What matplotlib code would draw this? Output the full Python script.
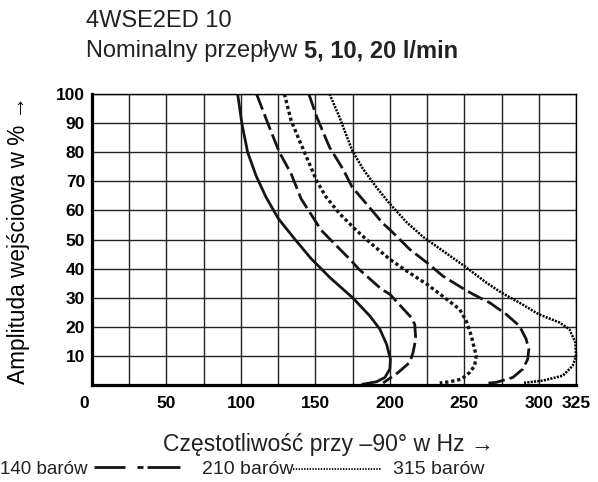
import matplotlib
matplotlib.use("Agg")
import matplotlib.pyplot as plt
from matplotlib.lines import Line2D
from matplotlib.transforms import ScaledTranslation

plt.rcParams['font.family'] = ['Liberation Sans', 'DejaVu Sans']
plt.rcParams['lines.scale_dashes'] = False

# curves (frequency in Hz, amplitude in %)
solid_x = [97.8, 100.7, 104.5, 110.1, 116.8, 125.1, 135.9, 147, 159.8, 175, 186.6, 193.3, 197.8,
           200.4, 200, 196.7, 191, 182]
solid_y = [100, 89.7, 80, 72, 64.6, 57.2, 50.3, 43.5, 36.9, 30, 23.7, 19.2, 14, 8.9, 5.5, 2.6, 1.1, 0.3]

dash1_x = [110.5, 118, 125.8, 133.7, 140.4, 153.9, 160, 174.3, 178.8, 194.4, 200, 213.8, 216.7,
           217.4, 215.6, 213.4, 205.6, 195.5]
dash1_y = [100, 90, 80, 72.6, 64, 53.2, 50, 42.6, 40, 32.9, 31.2, 23.5, 20.9, 15.8, 11.2, 7.8, 4.3, 0.7]

dots1_x = [129.2, 133.7, 139.3, 146, 151, 157.2, 166.2, 177.4, 186.5, 200, 211.2, 225, 236.8, 246.9,
           251.3, 254.7, 256.9, 258, 256.9, 253.6, 248, 240.2, 233.5]
dots1_y = [100, 90.9, 84, 76, 70, 64.6, 58.9, 53.2, 49, 43.2, 39.2, 34.6, 30, 26, 22, 16.9, 12.3, 10,
           6.6, 4.3, 2, 1.1, 0.7]

dash2_x = [145.6, 151, 159.5, 168.4, 174.7, 184.2, 195.4, 200, 213.4, 225, 235.7, 250, 255.8, 267,
           278.1, 287, 291.5, 293.3, 292.6, 289.3, 282.6, 271.4, 264.7]
dash2_y = [100, 92, 81.7, 74.3, 68, 62.3, 55.5, 53.4, 46.6, 42, 37.4, 32.9, 31.2, 28.3, 24.3, 20.3,
           15.8, 12.3, 8.9, 5.5, 2.6, 0.9, 0.6]

dots2_x = [159.5, 166.2, 174.7, 181.9, 190.9, 199.9, 211.1, 222.3, 250, 264.7, 275, 287, 300, 313.8,
           320.5, 324.6, 325, 322.8, 316.1, 302.7, 289.3]
dots2_y = [100, 92, 80.6, 74.3, 68, 62.3, 56, 50.9, 40.9, 35.2, 31.7, 28.3, 24.3, 21.5, 19.2, 14.6,
           10, 6.6, 3.2, 1.5, 0.7]

x_ticks = [0, 50, 100, 150, 200, 250, 300, 325]
y_ticks = [10, 20, 30, 40, 50, 60, 70, 80, 90, 100]

fig = plt.figure(figsize=(5.98, 4.82), dpi=100)
ax = fig.add_axes([92 / 598, 1 - 385 / 482, 484 / 598, 291 / 482])

ink = '#151515'
ax.plot(solid_x, solid_y, color=ink, lw=2.0, solid_joinstyle='round')
ax.plot(dash1_x, dash1_y, color=ink, lw=2.0, dashes=(12, 3.6))
ax.plot(dots1_x, dots1_y, color=ink, lw=2.4, dashes=(2.4, 2.0))
ax.plot(dash2_x, dash2_y, color=ink, lw=2.0, dashes=(12, 3.6))
ax.plot(dots2_x, dots2_y, color='#000', lw=1.8, dashes=(1.5, 0.9), clip_on=False)

ax.set_xlim(0, 325)
ax.set_ylim(0, 100)
ax.set_xticks(range(0, 326, 25), minor=True)
ax.set_xticks(x_ticks)
ax.set_yticks(range(0, 101, 10), minor=True)
ax.set_yticks(y_ticks)
ax.set_xticklabels([str(v) for v in x_ticks], fontsize=12.5, fontweight='bold')
ax.set_yticklabels([str(v) for v in y_ticks], fontsize=12.5, fontweight='bold')
ax.tick_params(which='both', length=0)
ax.tick_params(axis='x', pad=8)
ax.tick_params(axis='y', pad=5)
ax.grid(which='both', color='#222', lw=1.0)
ax.set_axisbelow(True)
for s in ['top', 'right']:
    ax.spines[s].set_linewidth(1.0)
for s in ['left', 'bottom']:
    ax.spines[s].set_linewidth(2.3)
# the "0" sits a little left of the corner
zero = ax.get_xticklabels()[0]
zero.set_transform(zero.get_transform() + ScaledTranslation(-8 / 100, 0, fig.dpi_scale_trans))

ax.set_ylabel('Amplituda wejściowa w % →', fontsize=16.3)
ax.yaxis.set_label_coords(-0.128, 0.5)

fig.text(86 / 598, 1 - 21 / 482, '4WSE2ED 10', fontsize=17, va='center', color='#222')
t = fig.text(86 / 598, 1 - 51 / 482, 'Nominalny przepływ ', fontsize=17, va='center', color='#222')
fig.canvas.draw()
bb = t.get_window_extent()
fig.text(bb.x1 / 598, 1 - 51 / 482, '5, 10, 20 l/min', fontsize=17, va='center',
         fontweight='bold', color='#222')

fig.text(328 / 598, 1 - 445 / 482, 'Częstotliwość przy –90° w Hz →', fontsize=16.6,
         ha='center', va='center', color='#222')

# legend row at the bottom
ly = 1 - 470 / 482
fig.text(0.5 / 598, ly, '140 barów', fontsize=13.5, ha='left', va='center', color='#222')
fig.text(202 / 598, ly, '210 barów', fontsize=14, ha='left', va='center', color='#222')
fig.text(393 / 598, ly, '315 barów', fontsize=14, ha='left', va='center', color='#222')
seg_y = 1 - 467 / 482
for x0, x1 in [(94, 125), (137, 143), (147, 180)]:
    fig.add_artist(Line2D([x0 / 598, x1 / 598], [seg_y, seg_y], color=ink, lw=2.0,
                          solid_capstyle='butt'))
dot_y = 1 - 469 / 482
fig.add_artist(Line2D([293 / 598, 382 / 598], [dot_y, dot_y], color=ink, lw=1.4,
                      dashes=(1.0, 1.0)))

fig.savefig('out.png', dpi=100)
